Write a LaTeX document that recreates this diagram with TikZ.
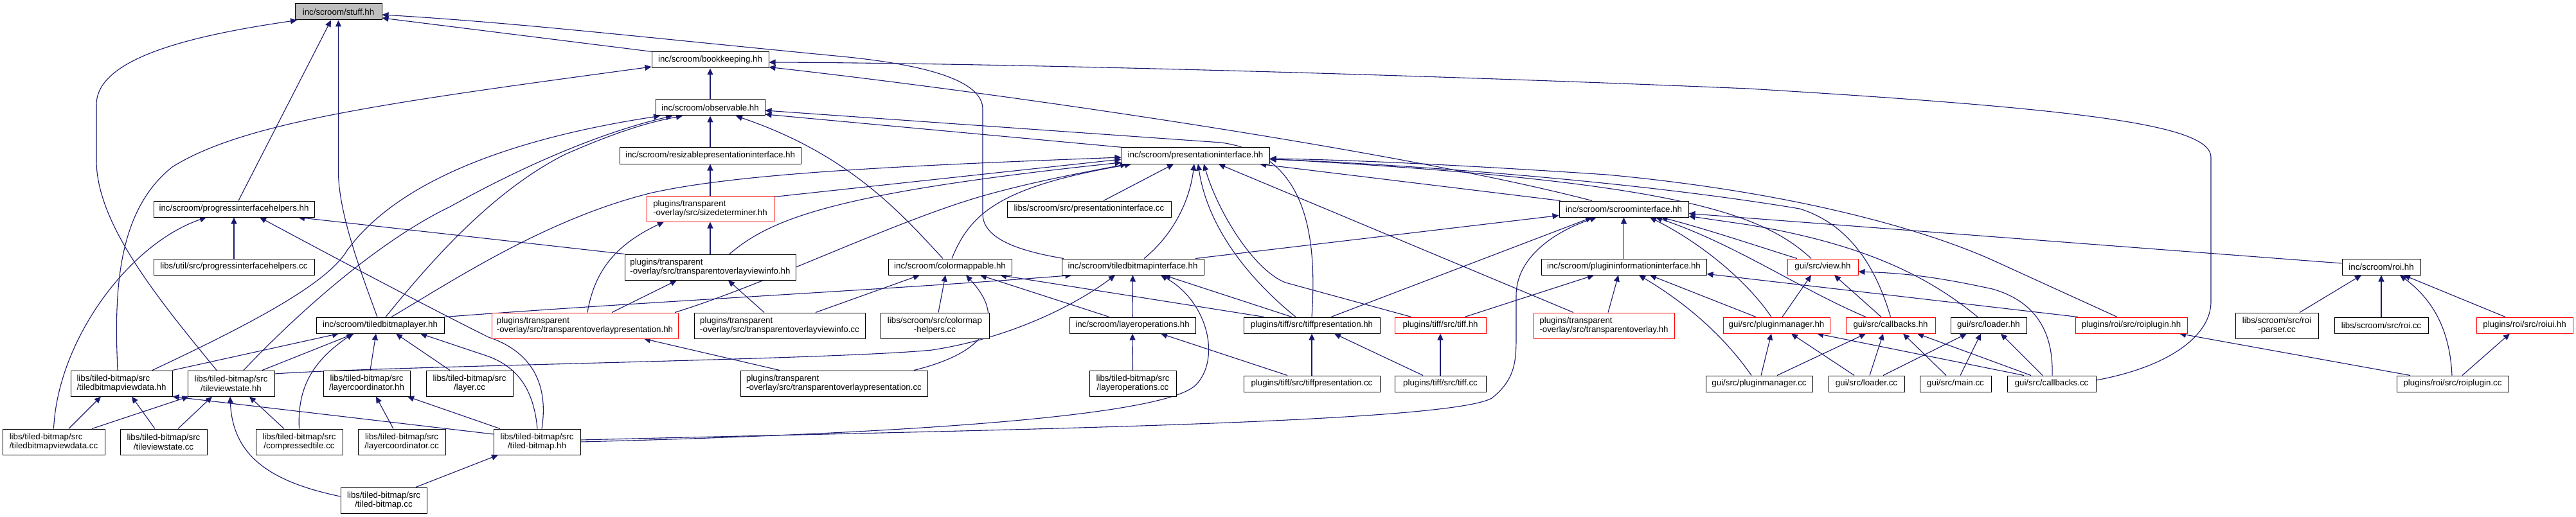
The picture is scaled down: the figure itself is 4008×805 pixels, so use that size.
\documentclass[tikz,border=0pt]{standalone}
\usepackage{fontspec}
\setmainfont{Liberation Sans}
\usetikzlibrary{arrows.meta}
\definecolor{edgec}{HTML}{191970}
\definecolor{stuffgray}{HTML}{BFBFBF}
\pgfdeclarelayer{bg}
\pgfsetlayers{bg,main}
\begin{document}
\begin{tikzpicture}[x=1pt,y=-1pt,
  nd/.style={draw=black, line width=1pt, fill=white, rectangle, inner sep=0pt, minimum height=25pt, font=\fontsize{13.3}{14.7}\selectfont, align=center},
  rd/.style={nd, draw=red},
  two/.style={minimum height=40pt},
  e/.style={draw=edgec, line width=1.1pt, -{Triangle[length=10pt,width=9pt]}}
]
\useasboundingbox (0,0) rectangle (4008,805);
% row 0-3
\node[nd,fill=stuffgray,minimum width=135pt] (stuff) at (526.5,18.5) {inc/scroom/stuff.hh};
\node[nd,minimum width=182pt] (book) at (1105,93.5) {inc/scroom/bookkeeping.hh};
\node[nd,minimum width=170pt] (obs) at (1105,167.5) {inc/scroom/observable.hh};
\node[nd,minimum width=282pt] (resz) at (1105,242.5) {inc/scroom/resizablepresentationinterface.hh};
\node[nd,minimum width=230pt] (pi) at (1860,242.5) {inc/scroom/presentationinterface.hh};
% row 4
\node[nd,minimum width=250pt] (pih) at (364,325.5) {inc/scroom/progressinterfacehelpers.hh};
\node[rd,two,minimum width=198pt,align=left] (sd) at (1105,325) {plugins/transparent\\-overlay/src/sizedeterminer.hh};
\node[nd,minimum width=255pt] (picc2) at (1694.5,325.5) {libs/scroom/src/presentationinterface.cc};
\node[nd,minimum width=201pt] (si) at (2526.5,325.5) {inc/scroom/scroominterface.hh};
% row 5
\node[nd,minimum width=250pt] (picc) at (364,415.5) {libs/util/src/progressinterfacehelpers.cc};
\node[nd,two,minimum width=266pt,align=left] (tvih) at (1105,416) {plugins/transparent\\-overlay/src/transparentoverlayviewinfo.hh};
\node[nd,minimum width=192pt] (cm) at (1478,415.5) {inc/scroom/colormappable.hh};
\node[nd,minimum width=221pt] (tbi) at (1762.5,415.5) {inc/scroom/tiledbitmapinterface.hh};
\node[nd,minimum width=257pt] (pii) at (2526.5,415.5) {inc/scroom/plugininformationinterface.hh};
\node[rd,minimum width=110pt] (view) at (2836,415.5) {gui/src/view.hh};
\node[nd,minimum width=122pt] (roi) at (3705,415.5) {inc/scroom/roi.hh};
% row 6
\node[nd,minimum width=199pt] (tbl) at (591.5,506.5) {inc/scroom/tiledbitmaplayer.hh};
\node[rd,two,minimum width=290pt,align=left] (toph) at (910,507) {plugins/transparent\\-overlay/src/transparentoverlaypresentation.hh};
\node[nd,two,minimum width=266pt,align=left] (tvicc) at (1213,507) {plugins/transparent\\-overlay/src/transparentoverlayviewinfo.cc};
\node[nd,two,minimum width=169pt] (cmh) at (1454.5,507) {libs/scroom/src/colormap\\-helpers.cc};
\node[nd,minimum width=196pt] (loh) at (1762,506.5) {inc/scroom/layeroperations.hh};
\node[nd,minimum width=212pt] (tph) at (2041,506.5) {plugins/tiff/src/tiffpresentation.hh};
\node[rd,minimum width=142pt] (tiffh) at (2241,506.5) {plugins/tiff/src/tiff.hh};
\node[rd,two,minimum width=219pt,align=left] (toh) at (2495.5,507) {plugins/transparent\\-overlay/src/transparentoverlay.hh};
\node[rd,minimum width=166pt] (pmh) at (2764,506.5) {gui/src/pluginmanager.hh};
\node[rd,minimum width=139pt] (cbh) at (2941.5,506.5) {gui/src/callbacks.hh};
\node[nd,minimum width=118pt] (ldh) at (3094,506.5) {gui/src/loader.hh};
\node[rd,minimum width=174pt] (rph) at (3316,506.5) {plugins/roi/src/roiplugin.hh};
\node[nd,two,minimum width=129pt] (rpc) at (3542.5,507) {libs/scroom/src/roi\\-parser.cc};
\node[nd,minimum width=146pt] (roicc) at (3705,506.5) {libs/scroom/src/roi.cc};
\node[rd,minimum width=150pt] (roiui) at (3928,506.5) {plugins/roi/src/roiui.hh};
% row 7
\node[nd,two,minimum width=158pt,align=left] (tbvdh) at (189,597) {libs/tiled-bitmap/src\\/tiledbitmapviewdata.hh};
\node[nd,two,minimum width=135pt] (tvsh) at (359.5,597) {libs/tiled-bitmap/src\\/tileviewstate.hh};
\node[nd,two,minimum width=135pt] (lch) at (570.5,597) {libs/tiled-bitmap/src\\/layercoordinator.hh};
\node[nd,two,minimum width=135pt] (layer) at (730.5,597) {libs/tiled-bitmap/src\\/layer.cc};
\node[nd,two,minimum width=291pt,align=left] (topcc) at (1297.5,597) {plugins/transparent\\-overlay/src/transparentoverlaypresentation.cc};
\node[nd,two,minimum width=135pt] (locc) at (1762.5,597) {libs/tiled-bitmap/src\\/layeroperations.cc};
\node[nd,minimum width=212pt] (tpcc) at (2041,597.5) {plugins/tiff/src/tiffpresentation.cc};
\node[nd,minimum width=142pt] (tiffcc) at (2241,597.5) {plugins/tiff/src/tiff.cc};
\node[nd,minimum width=166pt] (pmcc) at (2737,597.5) {gui/src/pluginmanager.cc};
\node[nd,minimum width=118pt] (ldcc) at (2904,597.5) {gui/src/loader.cc};
\node[nd,minimum width=111pt] (main) at (3042.5,597.5) {gui/src/main.cc};
\node[nd,minimum width=138pt] (cbcc) at (3192,597.5) {gui/src/callbacks.cc};
\node[nd,minimum width=174pt] (rpcc) at (3816,597.5) {plugins/roi/src/roiplugin.cc};
% row 8
\node[nd,two,minimum width=159pt,align=left] (tbvdcc) at (83.5,688) {libs/tiled-bitmap/src\\/tiledbitmapviewdata.cc};
\node[nd,two,minimum width=135pt] (tvscc) at (254.5,688) {libs/tiled-bitmap/src\\/tileviewstate.cc};
\node[nd,two,minimum width=135pt] (ctcc) at (465.5,688) {libs/tiled-bitmap/src\\/compressedtile.cc};
\node[nd,two,minimum width=136pt] (lccc) at (625,688) {libs/tiled-bitmap/src\\/layercoordinator.cc};
\node[nd,two,minimum width=135pt] (tbmh) at (835.5,688) {libs/tiled-bitmap/src\\/tiled-bitmap.hh};
% row 9
\node[nd,two,minimum width=134pt] (tbmcc) at (597,779) {libs/tiled-bitmap/src\\/tiled-bitmap.cc};

\begin{pgfonlayer}{bg}
% into stuff
\draw[e] ([xshift=-90pt]book.north) -- ([yshift=-9.5pt]stuff.east);
\draw[e] ([xshift=-107.5pt]tbi.north) .. controls (1580,390) and (1529,370) .. (1529,333) -- (1529,170) .. controls (1529,125) and (1440,100) .. (1300,87) .. controls (1000,58) and (800,35) .. ([yshift=-4.5pt]stuff.east);
\draw[e] ([xshift=-22.5pt]tvsh.north) .. controls (250,470) and (150,350) .. (150,250) -- (150,163) .. controls (150,90) and (300,55) .. ([xshift=-64.5pt]stuff.south);
\draw[e] ([xshift=7pt]pih.north) -- ([xshift=-11.5pt]stuff.south);
\draw[e] ([xshift=-4.5pt]tbl.north) .. controls (560,420) and (526.5,330) .. (526.5,267) -- (stuff.south);
% into bookkeeping
\draw[e] (obs.north) -- (book.south);
\draw[e] ([xshift=-6pt]tbvdh.north) .. controls (178,460) and (180,330) .. (268,260) .. controls (380,190) and (600,160) .. ([yshift=-10.5pt]book.west);
\draw[e] ([xshift=-49.5pt]si.north) .. controls (2200,240) and (1600,150) .. ([yshift=-11pt]book.east);
\draw[e] ([yshift=5.5pt]cbcc.east) .. controls (3380,570) and (3440,520) .. (3440,470) -- (3440,245) .. controls (3440,195) and (3250,170) .. (2720,138) .. controls (2100,112) and (1500,98) .. ([yshift=-3.5pt]book.east);
% into observable
\draw[e] (resz.north) -- (obs.south);
\draw[e] ([xshift=-113pt]pi.north) -- ([yshift=-10.5pt]obs.east);
\draw[e] (tph.north) .. controls (2050,360) and (2030,240) .. (1900,222) -- ([yshift=-4.5pt]obs.east);
\draw[e] ([xshift=-11pt]cm.north) .. controls (1400,330) and (1320,240) .. ([xshift=40pt]obs.south);
\draw[e] ([xshift=48pt]tbvdh.north) .. controls (400,500) and (510,440) .. (540,390) .. controls (620,280) and (800,215) .. ([xshift=-78pt]obs.south);
\draw[e] ([xshift=19.5pt]tvsh.north) .. controls (480,470) and (600,370) .. (700,322) .. controls (820,255) and (940,205) .. ([xshift=-59pt]obs.south);
\draw[e] ([xshift=8.5pt]tbl.north) .. controls (660,420) and (760,300) .. (880,240) .. controls (960,205) and (1010,190) .. ([xshift=-43pt]obs.south);
% resizable / presentationinterface
\draw[e] (sd.north) -- (resz.south);
\draw[e] ([yshift=-2pt]sd.north east) -- ([yshift=-5.5pt]pi.west);
\draw[e] ([xshift=30pt]tvih.north) .. controls (1200,340) and (1300,300) .. ([yshift=-10.5pt]pi.west);
\draw[e] ([xshift=140pt]toph.north) .. controls (1200,440) and (1400,340) .. (1540,302) .. controls (1620,280) and (1700,266) .. ([xshift=-107pt]pi.south);
\draw[e] ([xshift=3pt]cm.north) .. controls (1510,330) and (1560,290) .. ([xshift=-100pt]pi.south);
\draw[e] ([xshift=17.5pt]tbi.north) .. controls (1820,370) and (1850,320) .. ([xshift=-2pt]pi.south);
\draw[e] ([xshift=22.5pt]picc2.north) -- ([xshift=-34pt]pi.south);
\draw[e] ([xshift=-25pt]tph.north) .. controls (1950,440) and (1880,360) .. ([xshift=4pt]pi.south);
\draw[e] ([xshift=-45pt]tiffh.north) -- (2000,440) .. controls (1950,420) and (1895,330) .. ([xshift=13pt]pi.south);
\draw[e] ([xshift=-47.5pt]toh.north) -- ([xshift=36pt]pi.south);
\draw[e] ([xshift=-98.5pt]si.north) -- ([xshift=100pt]pi.south);
\draw[e] ([xshift=-22pt]rph.north) -- (3100,405) .. controls (3000,360) and (2800,300) .. (2500,272) .. controls (2200,252) and (2050,248) .. ([yshift=-4.5pt]pi.east);
\draw[e] (cbh.north) .. controls (2920,420) and (2880,350) .. (2800,325) .. controls (2500,275) and (2100,252) .. ([yshift=-5.5pt]pi.east);
\draw[e] ([xshift=-18pt]view.north) .. controls (2740,330) and (2600,282) .. ([yshift=-5pt]pi.east);
\draw[e] ([xshift=17.5pt]tbl.north) .. controls (700,440) and (850,340) .. (1015,300) .. controls (1150,270) and (1400,258) .. ([yshift=-2.5pt]pi.west);
% into scroominterface
\draw[e] ([xshift=97.5pt]tbi.north) -- ([yshift=-10pt]si.west);
\draw[e] ([xshift=30pt]tph.north) -- ([xshift=-49.5pt]si.south);
\draw[e] ([yshift=3pt]tbmh.east) .. controls (1500,670) and (2250,660) .. (2321,620) .. controls (2359,590) and (2359,560) .. (2359,520) -- (2359,460) .. controls (2359,400) and (2420,360) .. ([xshift=-42.5pt]si.south);
\draw[e] (pii.north) -- (si.south);
\draw[e] ([xshift=-8pt]pmh.north) .. controls (2720,440) and (2650,380) .. ([xshift=40.5pt]si.south);
\draw[e] ([xshift=-38.5pt]cbh.north) .. controls (2800,450) and (2700,380) .. ([xshift=49.5pt]si.south);
\draw[e] ([xshift=-40pt]view.north) .. controls (2740,385) and (2650,355) .. ([xshift=58pt]si.south);
\draw[e] ([xshift=-17pt]ldh.north) .. controls (3000,430) and (2900,380) .. (2720,350) -- ([yshift=-11pt]si.east);
\draw[e] ([yshift=5.5pt]roi.west) -- ([yshift=-7pt]si.east);
% into plugininformationinterface
\draw[e] ([xshift=38pt]tiffh.north) -- ([xshift=-46.5pt]pii.south);
\draw[e] ([xshift=6.5pt]toh.north) -- ([xshift=-8.5pt]pii.south);
\draw[e] ([xshift=-12pt]pmcc.north) .. controls (2680,520) and (2620,470) .. ([xshift=23.5pt]pii.south);
\draw[e] ([xshift=-32pt]pmh.north) -- ([xshift=40.5pt]pii.south);
\draw[e] ([xshift=-83pt]rph.north) -- ([yshift=-11pt]pii.east);
% into view
\draw[e] ([xshift=9pt]pmh.north) -- ([xshift=-18pt]view.south);
\draw[e] ([xshift=-14.5pt]cbh.north) -- ([xshift=18pt]view.south);
\draw[e] ([xshift=1pt]cbcc.north) .. controls (3195,520) and (3170,470) .. (3100,450) .. controls (3000,428) and (2950,425) .. ([yshift=-7.5pt]view.east);
% gui
\draw[e] ([xshift=3pt]pmcc.north) -- ([xshift=-8pt]pmh.south);
\draw[e] ([xshift=-19pt]ldcc.north) -- ([xshift=23pt]pmh.south);
\draw[e] ([xshift=-43pt]cbcc.north) -- ([xshift=63pt]pmh.south);
\draw[e] ([xshift=28pt]pmcc.north) -- ([xshift=-38.5pt]cbh.south);
\draw[e] ([xshift=5pt]ldcc.north) -- ([xshift=-11.5pt]cbh.south);
\draw[e] ([xshift=-14.5pt]main.north) -- ([xshift=19.5pt]cbh.south);
\draw[e] ([xshift=-32pt]cbcc.north) -- ([xshift=41.5pt]cbh.south);
\draw[e] ([xshift=26pt]ldcc.north) -- ([xshift=-34pt]ldh.south);
\draw[e] ([xshift=7.5pt]main.north) -- ([xshift=-12pt]ldh.south);
\draw[e] ([xshift=-14pt]cbcc.north) -- ([xshift=19pt]ldh.south);
% roi
\draw[e] ([xshift=35.5pt]rpc.north) -- ([xshift=-31pt]roi.south);
\draw[e] (roicc.north) -- (roi.south);
\draw[e] ([xshift=-1pt]rpcc.north) .. controls (3812,520) and (3790,470) .. ([xshift=29pt]roi.south);
\draw[e] ([xshift=-30pt]roiui.north) -- ([xshift=35pt]roi.south);
\draw[e] ([xshift=15pt]rpcc.north) -- ([xshift=-23pt]roiui.south);
\draw[e] ([xshift=-66pt]rpcc.north) -- ([xshift=75pt]rph.south);
% tiff
\draw[e] (tpcc.north) -- (tph.south);
\draw[e] ([xshift=-27pt]tiffcc.north) -- ([xshift=35pt]tph.south);
\draw[e] (tiffcc.north) -- (tiffh.south);
\draw[e] ([xshift=-38pt]tpcc.north) -- ([xshift=44pt]loh.south);
\draw[e] (locc.north) -- (loh.south);
% into tiledbitmapinterface
\draw[e] (loh.north) -- (tbi.south);
\draw[e] ([xshift=-31pt]tph.north) -- ([xshift=48.5pt]tbi.south);
\draw[e] (tbmh.east) .. controls (1300,678) and (1800,655) .. (1860,600) .. controls (1900,560) and (1880,470) .. ([xshift=43.5pt]tbi.south);
\draw[e] ([yshift=15pt]tvsh.east) .. controls (600,570) and (1300,560) .. (1450,545) .. controls (1580,525) and (1680,470) .. ([xshift=-27.5pt]tbi.south);
\draw[e] (tbl.north east) .. controls (1000,470) and (1400,450) .. ([xshift=-95pt]tbi.south);
% into colormappable
\draw[e] ([xshift=56pt]tvicc.north) -- ([xshift=-47pt]cm.south);
\draw[e] ([xshift=5.5pt]cmh.north) -- ([xshift=-7pt]cm.south);
\draw[e] ([xshift=124.5pt]topcc.north) .. controls (1530,550) and (1570,500) .. ([xshift=25pt]cm.south);
\draw[e] ([xshift=-36pt]loh.north) -- ([xshift=47pt]cm.south);
\draw[e] ([xshift=-74pt]tph.north) -- ([xshift=78pt]cm.south);
% progressinterfacehelpers
\draw[e] (picc.north) -- (pih.south);
\draw[e] (tbvdcc.north) .. controls (90,530) and (200,380) .. ([xshift=-43pt]pih.south);
\draw[e] ([xshift=7.5pt]tbmh.north) .. controls (855,590) and (820,545) .. (760,525) .. controls (650,470) and (500,390) .. ([xshift=40pt]pih.south);
\draw[e] (tvih.north west) -- ([xshift=100pt]pih.south);
% into tiledbitmaplayer
\draw[e] (tbvdh.north east) -- ([xshift=-64.5pt]tbl.south);
\draw[e] ([xshift=48.5pt]tvsh.north) -- ([xshift=-40.5pt]tbl.south);
\draw[e] (ctcc.north) .. controls (462,600) and (490,560) .. ([xshift=-42.5pt]tbl.south);
\draw[e] ([xshift=5.5pt]lch.north) -- ([xshift=-6.5pt]tbl.south);
\draw[e] ([xshift=-30.5pt]layer.north) -- ([xshift=24.5pt]tbl.south);
\draw[e] ([xshift=0.5pt]tbmh.north) .. controls (830,600) and (800,570) .. (760,555) -- ([xshift=62.5pt]tbl.south);
% tiled-bitmap lower
\draw[e] ([xshift=23.5pt]tbvdcc.north) -- ([xshift=-32pt]tbvdh.south);
\draw[e] ([xshift=-13.5pt]tvscc.north) -- ([xshift=16pt]tbvdh.south);
\draw[e] ([yshift=12pt]tbmh.west) -- (tbvdh.south east);
\draw[e] ([xshift=59.5pt]tbvdcc.north) -- ([xshift=2pt]tvsh.south west);
\draw[e] ([xshift=22.5pt]tvscc.north) -- ([xshift=-29.5pt]tvsh.south);
\draw[e] ([yshift=6pt]tbmcc.west) .. controls (420,750) and (362,710) .. ([xshift=-1.5pt]tvsh.south);
\draw[e] ([xshift=-23.5pt]ctcc.north) -- ([xshift=28.5pt]tvsh.south);
\draw[e] ([xshift=-13pt]lccc.north) -- ([xshift=14.5pt]lch.south);
\draw[e] ([xshift=-57.5pt]tbmh.north) -- ([xshift=63.5pt]lch.south);
\draw[e] ([xshift=50pt]tbmcc.north) -- ([xshift=-60.5pt]tbmh.south);
% transparent overlay
\draw[e] ([xshift=4pt]toph.north) .. controls (925,420) and (960,380) .. ([xshift=-72pt]sd.south);
\draw[e] (tvih.north) -- (sd.south);
\draw[e] ([xshift=42pt]toph.north) -- ([xshift=-52pt]tvih.south);
\draw[e] ([xshift=-24pt]tvicc.north) -- ([xshift=28pt]tvih.south);
\draw[e] ([xshift=-84.5pt]topcc.north) -- ([xshift=92pt]toph.south);
\end{pgfonlayer}
\end{tikzpicture}
\end{document}
